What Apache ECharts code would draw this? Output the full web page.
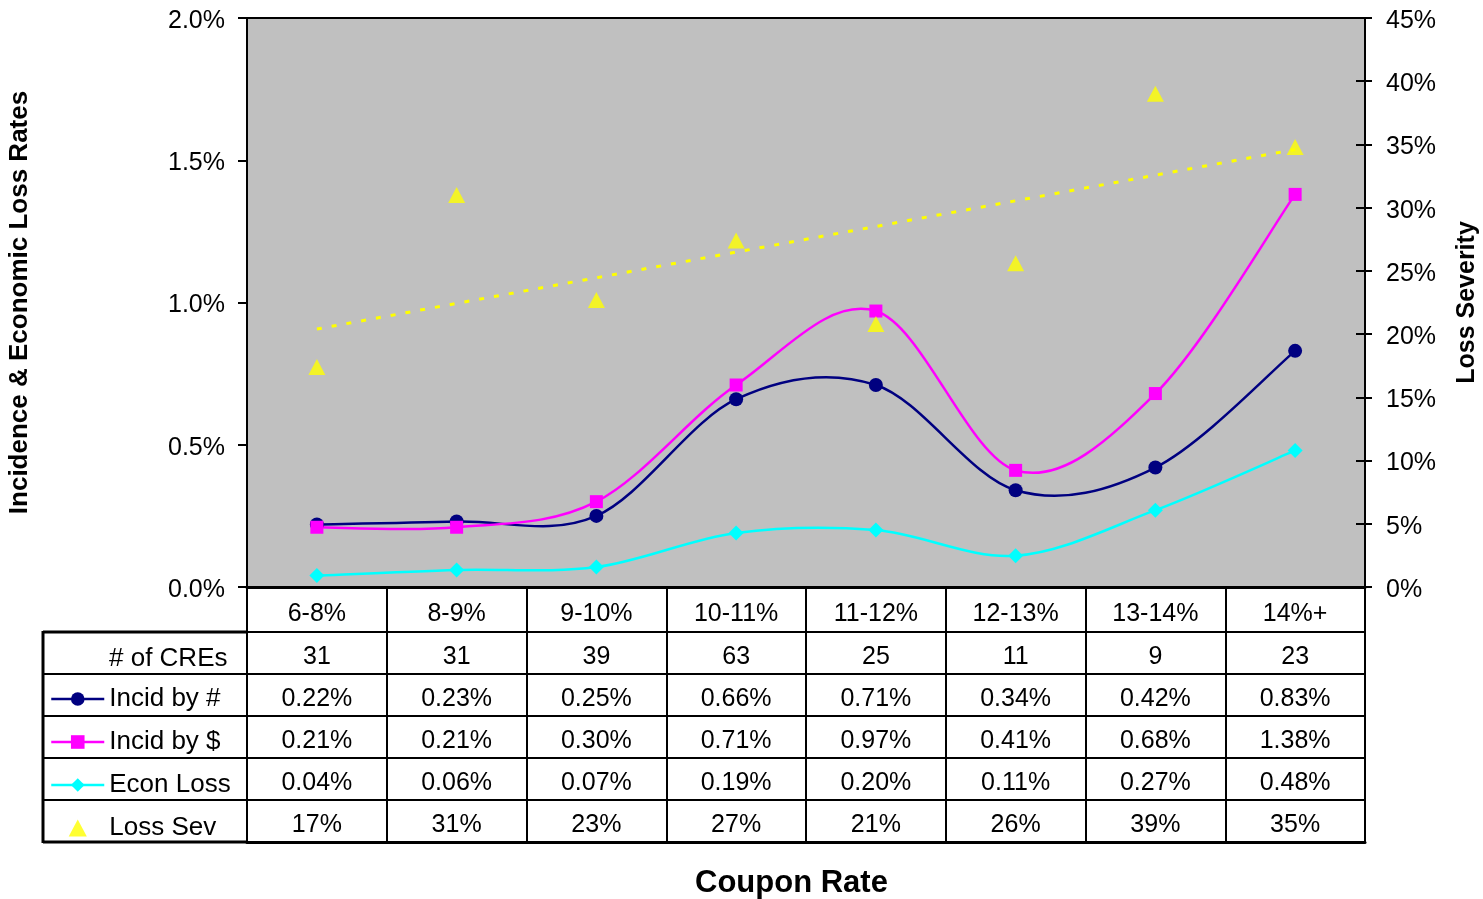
<!DOCTYPE html>
<html><head><meta charset="utf-8">
<script src="https://cdn.jsdelivr.net/npm/echarts@6/dist/echarts.min.js"></script>
<style>html,body{margin:0;padding:0;background:#fff}#c{width:1483px;height:899px}</style>
</head><body><div id="c"></div>
<script>
// ---- data ----
const categories = ['6-8%', '8-9%', '9-10%', '10-11%', '11-12%', '12-13%', '13-14%', '14%+'];
const numCREs = [31, 31, 39, 63, 25, 11, 9, 23];
const incidByCount = [0.22, 0.23, 0.25, 0.66, 0.71, 0.34, 0.42, 0.83];
const incidByDollar = [0.21, 0.21, 0.30, 0.71, 0.97, 0.41, 0.68, 1.38];
const econLoss = [0.04, 0.06, 0.07, 0.19, 0.20, 0.11, 0.27, 0.48];
const lossSev = [17.4, 31.0, 22.7, 27.4, 20.8, 25.6, 39.0, 34.8];   // marker positions (table shows rounded)
const trendEnds = [20.4, 34.6];          // dotted trend line at first / last category (read)
const leftAxis = { min: 0, max: 2.0, interval: 0.5 };
const rightAxis = { min: 0, max: 45, interval: 5 };
const seriesNames = ['Incid by #', 'Incid by $', 'Econ Loss', 'Loss Sev'];
const seriesColors = ['#000080', '#FF00FF', '#00FFFF', '#FFFF00'];
const countRowLabel = '# of CREs';

// ---- layout ----
const FONT = 'Liberation Sans, Arial, sans-serif';
const PL = 247, PR = 1365, PT = 18, PB = 587, CW = 1483, CH = 899;
const CAT_ROW = 45, ROW = 42, TABLE_X = 43;
const FS = 25;

const pct2 = v => v.toFixed(2) + '%';
const rows = [
  numCREs.map(String),
  incidByCount.map(pct2),
  incidByDollar.map(pct2),
  econLoss.map(pct2),
  lossSev.map(v => Math.round(v) + '%')
];

const xAxes = [{
  type: 'category', data: categories, position: 'bottom', boundaryGap: true,
  axisLine: { show: true, onZero: false, lineStyle: { color: '#000', width: 3 } },
  axisTick: { show: true, interval: 0, length: CAT_ROW, lineStyle: { color: '#000', width: 2 } },
  axisLabel: { interval: 0, fontSize: FS, color: '#000', fontFamily: FONT, margin: 15 },
  splitLine: { show: false }
}];
rows.forEach((r, i) => {
  xAxes.push({
    type: 'category', data: categories, position: 'bottom', boundaryGap: true,
    offset: CAT_ROW + ROW * i,
    axisLine: { show: true, onZero: false, lineStyle: { color: '#000', width: 2 } },
    axisTick: { show: true, interval: 0, length: ROW, lineStyle: { color: '#000', width: 2 } },
    axisLabel: { interval: 0, fontSize: FS, color: '#000', fontFamily: FONT, margin: 13,
      formatter: (v, idx) => r[idx] },
    splitLine: { show: false }
  });
});
xAxes.push({
  type: 'category', data: categories, position: 'bottom', boundaryGap: true,
  offset: CAT_ROW + ROW * rows.length,
  axisLine: { show: true, onZero: false, lineStyle: { color: '#000', width: 3 } },
  axisTick: { show: false }, axisLabel: { show: false }, splitLine: { show: false }
});

const graphics = [];
for (let k = 0; k <= rows.length; k++) {
  const y = PB + CAT_ROW + ROW * k;
  graphics.push({ type: 'line', shape: { x1: TABLE_X, y1: y, x2: PL, y2: y },
    style: { stroke: '#000', lineWidth: (k === 0 || k === rows.length) ? 3 : 2 } });
}
graphics.push({ type: 'line', shape: { x1: TABLE_X, y1: PB + CAT_ROW - 1, x2: TABLE_X, y2: PB + CAT_ROW + ROW * rows.length + 1 },
  style: { stroke: '#000', lineWidth: 3 } });
graphics.push({ type: 'text', x: 109, y: PB + CAT_ROW + ROW / 2 + 6,
  style: { text: countRowLabel, fontSize: 26, fontFamily: FONT, fill: '#000', verticalAlign: 'middle', align: 'left' } });

// Excel-style smoothed curve (Catmull-Rom through the data points, via the axis scales)
function smoothPath(pts) {
  let d = 'M' + pts[0][0] + ',' + pts[0][1];
  for (let i = 0; i < pts.length - 1; i++) {
    const p0 = pts[Math.max(i - 1, 0)], p1 = pts[i], p2 = pts[i + 1], p3 = pts[Math.min(i + 2, pts.length - 1)];
    const c1 = [p1[0] + (p2[0] - p0[0]) / 6, p1[1] + (p2[1] - p0[1]) / 6];
    const c2 = [p2[0] - (p3[0] - p1[0]) / 6, p2[1] - (p3[1] - p1[1]) / 6];
    d += 'C' + c1[0] + ',' + c1[1] + ' ' + c2[0] + ',' + c2[1] + ' ' + p2[0] + ',' + p2[1];
  }
  return d;
}
function curveSeries(values, color) {
  return {
    type: 'custom', name: 'curve ' + color, silent: true, z: 2,
    xAxisIndex: 0, yAxisIndex: 0,
    data: values.map((v, i) => [i, v]), encode: { x: 0, y: 1 },
    renderItem: (params, api) => {
      if (params.dataIndex !== 0) return null;
      const pts = values.map((v, i) => api.coord([i, v]));
      return { type: 'path', shape: { pathData: smoothPath(pts) },
        style: { fill: null, stroke: color, lineWidth: 2.5 } };
    }
  };
}
function markerSeries(idx, values, symbol, size) {
  return {
    name: seriesNames[idx], type: 'line', data: values, symbol: symbol, symbolSize: size, z: 3,
    lineStyle: { color: seriesColors[idx], width: 2.5, opacity: 0 }, itemStyle: { color: seriesColors[idx] }
  };
}
const legendLine = idx => ({ name: seriesNames[idx], lineStyle: { color: seriesColors[idx], width: 2.5, opacity: 1, type: 'solid' } });
const yLabel = fmt => ({ fontSize: FS, color: '#000', fontFamily: FONT,
  formatter: v => '{s|}\n{t|' + fmt(v) + '}',
  rich: { s: { height: 6, lineHeight: 6, fontSize: 1 }, t: { fontSize: FS, lineHeight: 25, color: '#000', fontFamily: FONT } } });

const chart = echarts.init(document.getElementById('c'), null, { renderer: 'canvas' });
chart.setOption({
  backgroundColor: '#fff',
  animation: false,
  textStyle: { fontFamily: FONT },
  title: { text: 'Coupon Rate', left: 690, top: 863,
    textStyle: { fontSize: 31, fontWeight: 'bold', color: '#000', fontFamily: FONT } },
  grid: { left: PL, right: CW - PR, top: PT, bottom: CH - PB, containLabel: false, outerBoundsMode: 'none',
    show: true, backgroundColor: '#C0C0C0', borderColor: '#000', borderWidth: 2 },
  legend: {
    orient: 'vertical', left: 50, top: PB + CAT_ROW + ROW + ROW / 2 - 14 + 4, padding: 0,
    itemWidth: 53, itemHeight: 17, itemGap: 15, selectedMode: false,
    textStyle: { fontSize: 26, color: '#000', fontFamily: FONT, lineHeight: 28 },
    data: [legendLine(0), legendLine(1), legendLine(2),
      { name: seriesNames[3], icon: 'path://M8,0L16,15L0,15Z' }]
  },
  xAxis: xAxes,
  yAxis: [{
    type: 'value', position: 'left', min: leftAxis.min, max: leftAxis.max, interval: leftAxis.interval,
    name: 'Incidence & Economic Loss Rates', nameLocation: 'middle', nameGap: 214, nameRotate: 90,
    nameTextStyle: { fontSize: 26, fontWeight: 'bold', color: '#000', fontFamily: FONT },
    axisLine: { show: true, lineStyle: { color: '#000', width: 2 } },
    axisTick: { show: true, length: 9, lineStyle: { color: '#000', width: 2 } },
    axisLabel: Object.assign({ margin: 22 }, yLabel(v => v.toFixed(1) + '%')),
    splitLine: { show: false }
  }, {
    type: 'value', position: 'right', min: rightAxis.min, max: rightAxis.max, interval: rightAxis.interval,
    name: 'Loss Severity', nameLocation: 'middle', nameGap: 90, nameRotate: 90,
    nameTextStyle: { fontSize: 25, fontWeight: 'bold', color: '#000', fontFamily: FONT },
    axisLine: { show: true, lineStyle: { color: '#000', width: 2 } },
    axisTick: { show: true, length: 7, lineStyle: { color: '#000', width: 2 } },
    axisLabel: Object.assign({ margin: 21 }, yLabel(v => v + '%')),
    splitLine: { show: false }
  }, {
    type: 'value', position: 'right', min: rightAxis.min, max: rightAxis.max, interval: rightAxis.interval,
    axisLine: { show: false },
    axisTick: { show: true, inside: true, length: 9, lineStyle: { color: '#000', width: 2 } },
    axisLabel: { show: false }, splitLine: { show: false }
  }],
  graphic: graphics,
  series: [
    curveSeries(incidByCount, seriesColors[0]),
    curveSeries(incidByDollar, seriesColors[1]),
    curveSeries(econLoss, seriesColors[2]),
    markerSeries(0, incidByCount, 'circle', 14),
    markerSeries(1, incidByDollar, 'rect', 13),
    markerSeries(2, econLoss, 'diamond', 15),
    {
      name: 'trend', type: 'line', yAxisIndex: 1, symbol: 'none', z: 1,
      data: [[0, trendEnds[0]], [categories.length - 1, trendEnds[1]]],
      lineStyle: { color: seriesColors[3], width: 3, type: [5, 10] }
    }, {
      name: seriesNames[3], type: 'scatter', yAxisIndex: 1, data: lossSev, z: 4,
      symbol: 'triangle', symbolSize: [17, 16], itemStyle: { color: seriesColors[3] }
    }
  ]
});
</script></body></html>
